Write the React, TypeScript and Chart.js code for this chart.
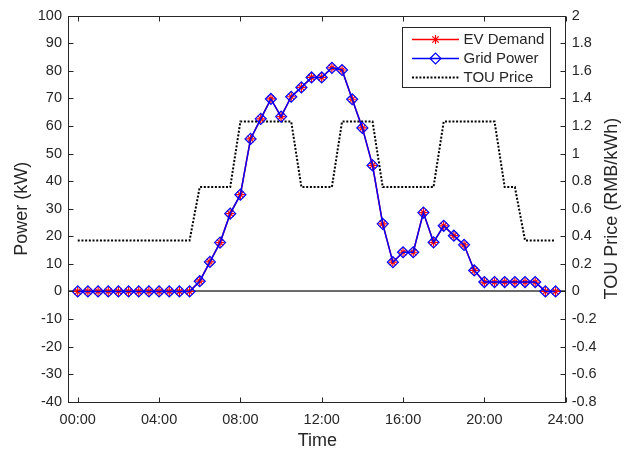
import React, { useEffect, useRef } from 'react';
import { Chart, registerables } from 'chart.js';

Chart.register(...registerables);

// ---- data ----
const hours = [
  0, 0.5, 1, 1.5, 2, 2.5, 3, 3.5, 4, 4.5, 5, 5.5,
  6, 6.5, 7, 7.5, 8, 8.5, 9, 9.5, 10, 10.5, 11, 11.5,
  12, 12.5, 13, 13.5, 14, 14.5, 15, 15.5, 16, 16.5, 17, 17.5,
  18, 18.5, 19, 19.5, 20, 20.5, 21, 21.5, 22, 22.5, 23, 23.5,
];
const evDemand = [
  0, 0, 0, 0, 0, 0, 0, 0, 0, 0, 0, 0,
  3.7, 10.7, 17.7, 28.2, 35.1, 55.3, 62.6, 69.8, 63.4, 70.6, 74.0, 77.6,
  77.6, 81.1, 80.3, 69.7, 59.3, 45.7, 24.5, 10.6, 14.2, 14.2, 28.6, 17.8,
  23.8, 20.2, 16.9, 7.6, 3.4, 3.4, 3.4, 3.4, 3.4, 3.4, 0, 0,
];
const gridPower = [
  0, 0, 0, 0, 0, 0, 0, 0, 0, 0, 0, 0,
  3.7, 10.7, 17.7, 28.2, 35.1, 55.3, 62.6, 69.8, 63.4, 70.6, 74.0, 77.6,
  77.6, 81.1, 80.3, 69.7, 59.3, 45.7, 24.5, 10.6, 14.2, 14.2, 28.6, 17.8,
  23.8, 20.2, 16.9, 7.6, 3.4, 3.4, 3.4, 3.4, 3.4, 3.4, 0, 0,
];
const touPrice = [
  0.37, 0.37, 0.37, 0.37, 0.37, 0.37, 0.37, 0.37, 0.37, 0.37, 0.37, 0.37,
  0.757, 0.757, 0.757, 0.757, 1.232, 1.232, 1.232, 1.232, 1.232, 1.232, 0.757, 0.757,
  0.757, 0.757, 1.232, 1.232, 1.232, 1.232, 0.757, 0.757, 0.757, 0.757, 0.757, 0.757,
  1.232, 1.232, 1.232, 1.232, 1.232, 1.232, 0.757, 0.757, 0.37, 0.37, 0.37, 0.37,
];
const xTickValues = [0, 4, 8, 12, 16, 20, 24];
const xTickLabels = ['00:00', '04:00', '08:00', '12:00', '16:00', '20:00', '24:00'];
const seriesNames = ['EV Demand', 'Grid Power', 'TOU Price'];
const xTitle = 'Time';
const yLeftTitle = 'Power (kW)';
const yRightTitle = 'TOU Price (RMB/kWh)';

const FONT = '"Liberation Sans", Arial, Helvetica, sans-serif';
const TEXT = '#262626';

function drawStar(ctx: CanvasRenderingContext2D, x: number, y: number, r: number) {
  ctx.beginPath();
  ctx.moveTo(x - r, y); ctx.lineTo(x + r, y);
  ctx.moveTo(x, y - r); ctx.lineTo(x, y + r);
  const d = r * Math.SQRT1_2;
  ctx.moveTo(x - d, y - d); ctx.lineTo(x + d, y + d);
  ctx.moveTo(x - d, y + d); ctx.lineTo(x + d, y - d);
  ctx.stroke();
}
function drawDiamond(ctx: CanvasRenderingContext2D, x: number, y: number, r: number) {
  ctx.beginPath();
  ctx.moveTo(x - r, y); ctx.lineTo(x, y - r); ctx.lineTo(x + r, y); ctx.lineTo(x, y + r);
  ctx.closePath();
  ctx.stroke();
}

const decor = {
  id: 'decor',
  beforeDatasetsDraw(chart: any) {
    const { ctx, chartArea: a, scales } = chart;
    const y0 = Math.round(scales.y.getPixelForValue(0));
    ctx.save();
    ctx.strokeStyle = '#3a3a3a';
    ctx.lineWidth = 1.6;
    ctx.beginPath();
    ctx.moveTo(a.left, y0);
    ctx.lineTo(a.right, y0);
    ctx.stroke();
    ctx.restore();
  },
  afterDatasetsDraw(chart: any) {
    const { ctx, chartArea: a, scales } = chart;
    ctx.save();
    // box
    const L = Math.round(a.left) - 0.5;
    const R = Math.round(a.right) - 0.5;
    const T = Math.round(a.top) + 0.5;
    const B = Math.round(a.bottom) + 0.5;
    ctx.strokeStyle = TEXT;
    ctx.lineWidth = 1;
    ctx.strokeRect(L, T, R - L, B - T);
    // ticks
    ctx.beginPath();
    const tl = 5;
    scales.y.ticks.forEach((t: any) => {
      const y = Math.round(scales.y.getPixelForValue(t.value)) + 0.5;
      ctx.moveTo(L, y); ctx.lineTo(L + tl, y);
    });
    scales.y1.ticks.forEach((t: any) => {
      const y = Math.round(scales.y1.getPixelForValue(t.value)) + 0.5;
      ctx.moveTo(R, y); ctx.lineTo(R - tl, y);
    });
    xTickValues.forEach((v) => {
      const x = Math.round(scales.x.getPixelForValue(v)) + 0.5;
      ctx.moveTo(x, B); ctx.lineTo(x, B - tl);
      ctx.moveTo(x, T); ctx.lineTo(x, T + tl);
    });
    ctx.stroke();

    // titles
    ctx.fillStyle = TEXT;
    ctx.font = `18px ${FONT}`;
    ctx.textAlign = 'center';
    ctx.textBaseline = 'middle';
    const cy = (a.top + a.bottom) / 2;
    ctx.fillText(xTitle, (a.left + a.right) / 2, 441);
    ctx.save();
    ctx.translate(22.5, cy);
    ctx.rotate(-Math.PI / 2);
    ctx.fillText(yLeftTitle, 0, 0);
    ctx.restore();
    ctx.save();
    ctx.translate(612, cy);
    ctx.rotate(-Math.PI / 2);
    ctx.fillText(yRightTitle, 0, 0);
    ctx.restore();

    // legend
    const bx = 402.5, by = 27.5, bw = 148, bh = 60;
    ctx.fillStyle = '#ffffff';
    ctx.fillRect(bx, by, bw, bh);
    ctx.strokeStyle = TEXT;
    ctx.lineWidth = 1;
    ctx.strokeRect(bx, by, bw, bh);
    const rows = [39.5, 58.5, 77.5];
    const lx0 = 412, lx1 = 459, mx = 435.5;
    const ds = chart.data.datasets;
    rows.forEach((ry, i) => {
      const d = ds[i];
      ctx.save();
      ctx.strokeStyle = d.borderColor;
      ctx.lineWidth = d.borderWidth;
      ctx.setLineDash(d.borderDash || []);
      ctx.beginPath();
      ctx.moveTo(lx0, ry); ctx.lineTo(lx1, ry);
      ctx.stroke();
      ctx.setLineDash([]);
      ctx.lineWidth = 1.2;
      if (i === 0) drawStar(ctx, mx, ry, 4.5);
      if (i === 1) {
        ctx.fillStyle = '#fff';
        drawDiamond(ctx, mx, ry, 5.5);
      }
      ctx.restore();
      ctx.fillStyle = TEXT;
      ctx.font = `15px ${FONT}`;
      ctx.textAlign = 'left';
      ctx.textBaseline = 'middle';
      ctx.fillText(seriesNames[i], 463.5, ry + 0.5);
    });
    ctx.restore();
  },
};

export default function App() {
  const ref = useRef<HTMLCanvasElement>(null);
  useEffect(() => {
    document.body.style.margin = '0';
    const canvas = ref.current!;
    const chart = new Chart(canvas, {
      type: 'line',
      data: {
        datasets: [
          {
            label: seriesNames[0],
            data: hours.map((h, i) => ({ x: h, y: evDemand[i] })),
            borderColor: '#ff0000',
            backgroundColor: 'transparent',
            borderWidth: 1.5,
            pointStyle: 'star',
            pointRadius: 4.5,
            pointBorderWidth: 1.2,
            pointBorderColor: '#ff0000',
            yAxisID: 'y',
            order: 2,
          },
          {
            label: seriesNames[1],
            data: hours.map((h, i) => ({ x: h, y: gridPower[i] })),
            borderColor: '#0000ff',
            backgroundColor: 'transparent',
            borderWidth: 1.5,
            pointStyle: 'rectRot',
            pointRadius: 5.5,
            pointBorderWidth: 1.2,
            pointBorderColor: '#0000ff',
            pointBackgroundColor: 'transparent',
            yAxisID: 'y',
            order: 1,
          },
          {
            label: seriesNames[2],
            data: hours.map((h, i) => ({ x: h, y: touPrice[i] })),
            borderColor: '#000000',
            backgroundColor: 'transparent',
            borderWidth: 2,
            borderDash: [2, 1.7],
            pointRadius: 0,
            yAxisID: 'y1',
            order: 3,
          },
        ] as any,
      },
      options: {
        responsive: false,
        animation: false,
        layout: { padding: { top: 13.3, left: 0, right: 0, bottom: 0 } },
        plugins: { legend: { display: false }, tooltip: { enabled: false } },
        elements: { line: { tension: 0 } },
        scales: {
          x: {
            type: 'linear',
            min: -0.43,
            max: 24,
            grid: { display: false, drawTicks: false },
            border: { display: false },
            afterBuildTicks: (s: any) => {
              s.ticks = xTickValues.map((v) => ({ value: v }));
            },
            afterFit: (s: any) => { s.height = 51.3; },
            ticks: {
              autoSkip: false,
              maxRotation: 0,
              padding: 10,
              color: TEXT,
              font: { size: 14.5, family: FONT },
              callback: (_v: any, i: number) => xTickLabels[i],
            },
          },
          y: {
            type: 'linear',
            position: 'left',
            min: -40,
            max: 100,
            grid: { display: false, drawTicks: false },
            border: { display: false },
            afterFit: (s: any) => { s.width = 69; },
            ticks: {
              stepSize: 10,
              padding: 7,
              color: TEXT,
              font: { size: 14.5, family: FONT },
            },
          },
          y1: {
            type: 'linear',
            position: 'right',
            min: -0.8,
            max: 2,
            grid: { display: false, drawTicks: false },
            border: { display: false },
            afterFit: (s: any) => { s.width = 69.3; },
            ticks: {
              stepSize: 0.2,
              padding: 6,
              color: TEXT,
              font: { size: 14.5, family: FONT },
              callback: (v: any) => String(Math.round(Number(v) * 10) / 10),
            },
          },
        },
      } as any,
      plugins: [decor],
    });
    return () => chart.destroy();
  }, []);
  return (
    <div style={{ width: 635, height: 453, background: '#fff' }}>
      <canvas ref={ref} width={635} height={453} style={{ display: 'block' }} />
    </div>
  );
}
